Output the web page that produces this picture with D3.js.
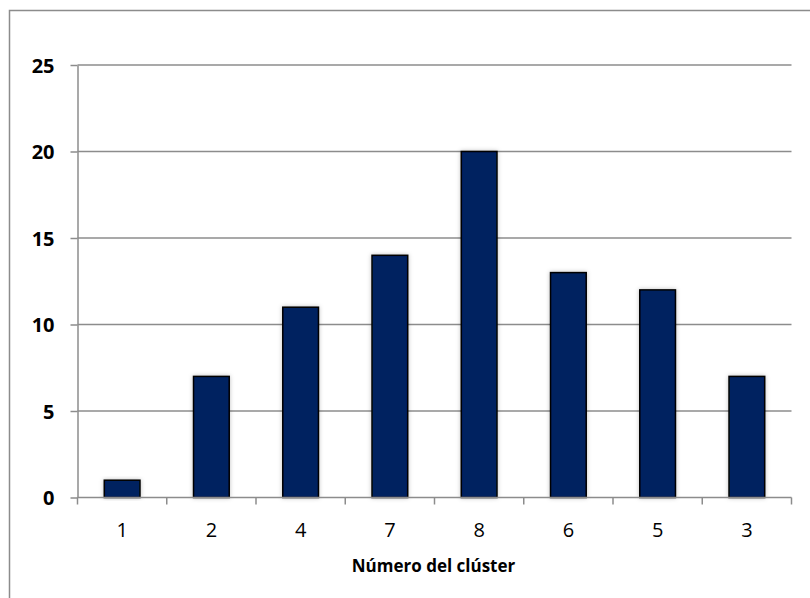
<!DOCTYPE html>
<html>
<head>
<meta charset="utf-8">
<script src="https://cdn.jsdelivr.net/npm/d3@7"></script>
<style>
  html, body { margin: 0; padding: 0; background: #fff; }
  svg { display: block; }
  text { font-family: "Open Sans", "Noto Sans", sans-serif; }
</style>
</head>
<body>
<svg id="chart" width="810" height="598"></svg>
<script>
// Cluster counts, in display order
const clusters = ["1", "2", "4", "7", "8", "6", "5", "3"];
const counts = [1, 7, 11, 14, 20, 13, 12, 7];
const yTicks = [0, 5, 10, 15, 20, 25];
const xTitle = "Número del clúster";

const svg = d3.select("#chart");
const plot = { left: 77.5, right: 791.5, top: 65, bottom: 497.5 };

// Outer chart frame (runs past the right and bottom edges)
svg.append("rect")
  .attr("x", 9.5).attr("y", 10.5)
  .attr("width", 830).attr("height", 620)
  .attr("fill", "none").attr("stroke", "#8c8c8c").attr("stroke-width", 1.5);

const x = d3.scaleBand().domain(clusters)
  .range([plot.left, plot.right]).paddingInner(0.6).paddingOuter(0.3);
const y = d3.scaleLinear().domain([0, 25]).range([plot.bottom, plot.top]);

// Horizontal gridlines
svg.append("g").selectAll("line").data(yTicks.filter(d => d > 0)).join("line")
  .attr("x1", plot.left).attr("x2", plot.right)
  .attr("y1", d => y(d)).attr("y2", d => y(d))
  .attr("stroke", "#8c8c8c").attr("stroke-width", 1.5);

// Y axis
const yAxis = svg.append("g")
  .attr("transform", `translate(${plot.left},0)`)
  .call(d3.axisLeft(y).tickValues(yTicks).tickSize(7).tickSizeOuter(0).tickPadding(16));
yAxis.select(".domain").attr("stroke", "#8c8c8c").attr("stroke-width", 1.5);
yAxis.selectAll(".tick line").attr("stroke", "#8c8c8c").attr("stroke-width", 1.5);
yAxis.selectAll(".tick text")
  .attr("font-size", 20).attr("font-weight", "bold").attr("fill", "#000")
  .attr("dy", "0.36em")
  .style("font-family", "'Open Sans', sans-serif");

// Bars with a faint drop shadow
const defs = svg.append("defs");
const f = defs.append("filter").attr("id", "shadow")
  .attr("x", "-20%").attr("y", "-20%").attr("width", "140%").attr("height", "140%");
f.append("feDropShadow").attr("dx", 0).attr("dy", 0).attr("stdDeviation", 2)
  .attr("flood-color", "#000").attr("flood-opacity", 0.25);

svg.append("g").selectAll("rect").data(clusters).join("rect")
  .attr("x", (d) => x(d))
  .attr("y", (d, i) => y(counts[i]))
  .attr("width", x.bandwidth())
  .attr("height", (d, i) => y(0) - y(counts[i]))
  .attr("fill", "#002060")
  .attr("stroke", "#000").attr("stroke-width", 1.5)
  .attr("filter", "url(#shadow)");

// X axis with ticks between categories
const xBoundaries = d3.range(clusters.length + 1).map(i => plot.left + i * (plot.right - plot.left) / clusters.length);
const xg = svg.append("g");
xg.append("line")
  .attr("x1", plot.left).attr("x2", plot.right)
  .attr("y1", plot.bottom).attr("y2", plot.bottom)
  .attr("stroke", "#8c8c8c").attr("stroke-width", 1.5);
xg.selectAll("line.tick").data(xBoundaries).join("line").attr("class", "tick")
  .attr("x1", d => d).attr("x2", d => d)
  .attr("y1", plot.bottom).attr("y2", plot.bottom + 7)
  .attr("stroke", "#8c8c8c").attr("stroke-width", 1.5);
xg.selectAll("text").data(clusters).join("text")
  .attr("x", d => x(d) + x.bandwidth() / 2)
  .attr("y", 537)
  .attr("text-anchor", "middle")
  .attr("font-size", 20).attr("fill", "#000")
  .text(d => d);

svg.append("text")
  .attr("x", (plot.left + plot.right) / 2 - 1)
  .attr("y", 572)
  .attr("text-anchor", "middle")
  .attr("font-size", 17).attr("font-weight", "bold").attr("fill", "#000")
  .text(xTitle);
</script>
</body>
</html>
